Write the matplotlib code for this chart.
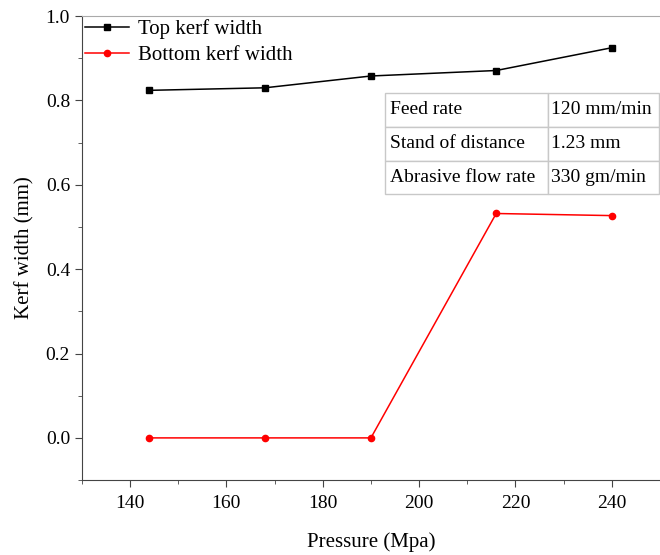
import numpy as np
import matplotlib
matplotlib.use('Agg')
import matplotlib.pyplot as plt
from matplotlib.ticker import MultipleLocator

# data
pressure = [144, 168, 190, 216, 240]
top_kerf = [0.824, 0.830, 0.858, 0.871, 0.925]
bottom_kerf = [0.0, 0.0, 0.0, 0.532, 0.527]

table_rows = [['Feed rate', '120 mm/min'],
              ['Stand of distance', '1.23 mm'],
              ['Abrasive flow rate', '330 gm/min']]

plt.rcParams['font.family'] = ['Liberation Serif', 'DejaVu Serif']

fig = plt.figure(figsize=(6.6, 5.55), dpi=100)
ax = fig.add_axes([0.124, 0.135, 0.876, 0.836])

ax.plot(pressure, top_kerf, color='black', marker='s', markersize=4.5, lw=1.1,
        label='Top kerf width')
ax.plot(pressure, bottom_kerf, color='red', marker='o', markersize=4.5, lw=1.1,
        label='Bottom kerf width')

ax.set_xlim(130, 250)
ax.set_ylim(-0.1, 1.0)
ax.xaxis.set_major_locator(MultipleLocator(20))
ax.xaxis.set_minor_locator(MultipleLocator(10))
ax.yaxis.set_major_locator(MultipleLocator(0.2))
ax.yaxis.set_minor_locator(MultipleLocator(0.1))
ax.yaxis.set_major_formatter(plt.FormatStrFormatter('%.1f'))

ax.spines['right'].set_visible(False)
ax.spines['top'].set_color('#aaaaaa')
ax.spines['left'].set_color('#444444')
ax.spines['bottom'].set_color('#444444')
ax.tick_params(which='both', direction='out', colors='#444444', labelcolor='black',
               labelsize=14)
ax.tick_params(which='major', length=5)
ax.tick_params(which='minor', length=3)
ax.tick_params(axis='x', which='major', pad=6)

ax.set_xlabel('Pressure (Mpa)', fontsize=15, labelpad=14)
ax.set_ylabel('Kerf width (mm)', fontsize=15, labelpad=8)

ax.legend(loc='upper left', frameon=False, fontsize=15, handlelength=2.1,
          borderaxespad=0.0, borderpad=0.15, labelspacing=0.3, handletextpad=0.45)

tbl = ax.table(cellText=table_rows, colWidths=[0.595, 0.405], cellLoc='left',
               bbox=[0.524, 0.616, 0.474, 0.218])
tbl.auto_set_font_size(False)
tbl.set_fontsize(14)
for cell in tbl.get_celld().values():
    cell.set_edgecolor('#c8c8c8')
    cell.set_linewidth(1.0)
    cell.PAD = 0.03

fig.savefig('out.png', dpi=100)
